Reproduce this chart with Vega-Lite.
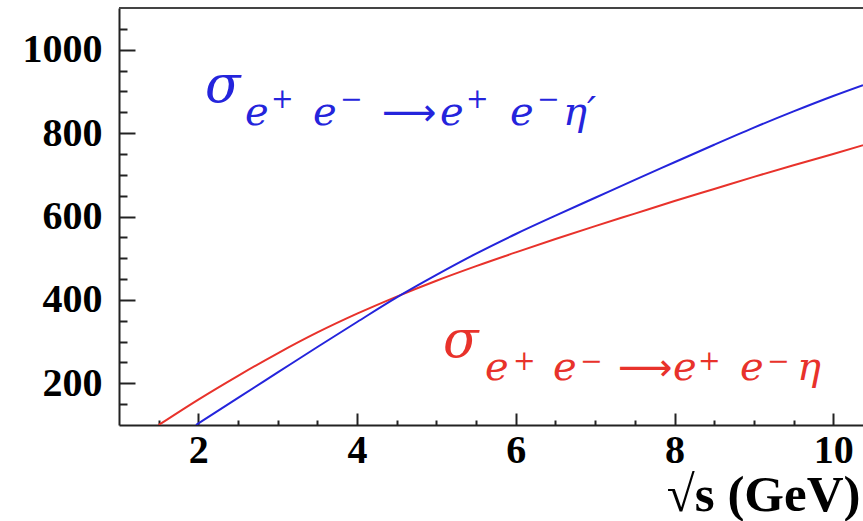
{
  "$schema": "https://vega.github.io/schema/vega-lite/v6.json",
  "width": 744,
  "height": 417,
  "autosize": {"type": "none"},
  "padding": {"left": 119, "top": 8, "right": 0, "bottom": 96},
  "background": "white",
  "config": {
    "view": {"stroke": null},
    "axis": {"grid": false}
  },
  "datasets": {
    "curves": [
      {"process": "eta", "sqrt_s": 1.5, "sigma": 100},
      {"process": "eta", "sqrt_s": 2.0, "sigma": 161},
      {"process": "eta", "sqrt_s": 2.5, "sigma": 218},
      {"process": "eta", "sqrt_s": 3.0, "sigma": 272},
      {"process": "eta", "sqrt_s": 3.5, "sigma": 322},
      {"process": "eta", "sqrt_s": 4.0, "sigma": 367},
      {"process": "eta", "sqrt_s": 4.5, "sigma": 408},
      {"process": "eta", "sqrt_s": 5.0, "sigma": 446},
      {"process": "eta", "sqrt_s": 5.5, "sigma": 481},
      {"process": "eta", "sqrt_s": 6.0, "sigma": 514},
      {"process": "eta", "sqrt_s": 6.5, "sigma": 546},
      {"process": "eta", "sqrt_s": 7.0, "sigma": 577},
      {"process": "eta", "sqrt_s": 7.5, "sigma": 607},
      {"process": "eta", "sqrt_s": 8.0, "sigma": 637},
      {"process": "eta", "sqrt_s": 8.5, "sigma": 666},
      {"process": "eta", "sqrt_s": 9.0, "sigma": 695},
      {"process": "eta", "sqrt_s": 9.5, "sigma": 723},
      {"process": "eta", "sqrt_s": 10.0, "sigma": 750},
      {"process": "eta", "sqrt_s": 10.375, "sigma": 771},
      {"process": "etaprime", "sqrt_s": 1.97, "sigma": 100},
      {"process": "etaprime", "sqrt_s": 2.5, "sigma": 165},
      {"process": "etaprime", "sqrt_s": 3.0, "sigma": 226},
      {"process": "etaprime", "sqrt_s": 3.5, "sigma": 287},
      {"process": "etaprime", "sqrt_s": 4.0, "sigma": 347},
      {"process": "etaprime", "sqrt_s": 4.5, "sigma": 406},
      {"process": "etaprime", "sqrt_s": 5.0, "sigma": 460},
      {"process": "etaprime", "sqrt_s": 5.5, "sigma": 511},
      {"process": "etaprime", "sqrt_s": 6.0, "sigma": 558},
      {"process": "etaprime", "sqrt_s": 6.5, "sigma": 602},
      {"process": "etaprime", "sqrt_s": 7.0, "sigma": 645},
      {"process": "etaprime", "sqrt_s": 7.5, "sigma": 688},
      {"process": "etaprime", "sqrt_s": 8.0, "sigma": 730},
      {"process": "etaprime", "sqrt_s": 8.5, "sigma": 772},
      {"process": "etaprime", "sqrt_s": 9.0, "sigma": 813},
      {"process": "etaprime", "sqrt_s": 9.5, "sigma": 852},
      {"process": "etaprime", "sqrt_s": 10.0, "sigma": 889},
      {"process": "etaprime", "sqrt_s": 10.375, "sigma": 915}
    ],
    "labels": [
      {"process": "etaprime", "part": "sigma", "text": "σ", "x": 2.084, "y": 875},
      {"process": "etaprime", "part": "base", "text": "e", "x": 2.588, "y": 819},
      {"process": "etaprime", "part": "sup", "text": "+", "x": 2.915, "y": 880},
      {"process": "etaprime", "part": "base", "text": "e", "x": 3.445, "y": 819},
      {"process": "etaprime", "part": "sup", "text": "−", "x": 3.785, "y": 880},
      {"process": "etaprime", "part": "arrow", "text": "⟶", "x": 4.314, "y": 819},
      {"process": "etaprime", "part": "base", "text": "e", "x": 5.045, "y": 819},
      {"process": "etaprime", "part": "sup", "text": "+", "x": 5.373, "y": 880},
      {"process": "etaprime", "part": "base", "text": "e", "x": 5.927, "y": 819},
      {"process": "etaprime", "part": "sup", "text": "−", "x": 6.267, "y": 880},
      {"process": "etaprime", "part": "base", "text": "η′", "x": 6.595, "y": 819},
      {"process": "eta", "part": "sigma", "text": "σ", "x": 5.083, "y": 263},
      {"process": "eta", "part": "base", "text": "e", "x": 5.612, "y": 208},
      {"process": "eta", "part": "sup", "text": "+", "x": 5.965, "y": 251},
      {"process": "eta", "part": "base", "text": "e", "x": 6.469, "y": 208},
      {"process": "eta", "part": "sup", "text": "−", "x": 6.809, "y": 251},
      {"process": "eta", "part": "arrow", "text": "⟶", "x": 7.288, "y": 208},
      {"process": "eta", "part": "base", "text": "e", "x": 7.981, "y": 208},
      {"process": "eta", "part": "sup", "text": "+", "x": 8.296, "y": 251},
      {"process": "eta", "part": "base", "text": "e", "x": 8.825, "y": 208},
      {"process": "eta", "part": "sup", "text": "−", "x": 9.165, "y": 251},
      {"process": "eta", "part": "base", "text": "η", "x": 9.543, "y": 208}
    ]
  },
  "resolve": {"axis": {"x": "independent", "y": "independent"}},
  "layer": [
    {
      "data": {"name": "curves"},
      "mark": {"type": "line", "strokeWidth": 2, "interpolate": "monotone", "clip": true},
      "encoding": {
        "x": {
          "field": "sqrt_s", "type": "quantitative",
          "scale": {"domain": [1, 10.375], "nice": false, "zero": false},
          "axis": {
            "orient": "bottom",
            "values": [2, 4, 6, 8, 10],
            "format": "d",
            "labelFont": "Liberation Serif", "labelFontWeight": "bold", "labelFontSize": 40,
            "labelColor": "black", "labelPadding": 17, "labelFlush": false, "labelOverlap": false,
            "domainColor": "#222", "domainWidth": 2,
            "tickColor": "#222", "tickWidth": 2, "tickSize": -12,
            "title": "√s (GeV)",
            "titleFont": "Liberation Serif", "titleFontWeight": "bold", "titleFontSize": 51,
            "titleColor": "black", "titleAlign": "right", "titleAnchor": "end",
            "titleX": 741, "titleY": 85, "titleBaseline": "alphabetic"
          }
        },
        "y": {
          "field": "sigma", "type": "quantitative",
          "scale": {"domain": [100, 1100], "nice": false, "zero": false},
          "axis": {
            "orient": "left",
            "values": [200, 400, 600, 800, 1000],
            "format": "d",
            "labelFont": "Liberation Serif", "labelFontWeight": "bold", "labelFontSize": 40,
            "labelColor": "black", "labelPadding": 33, "labelFlush": false, "labelOverlap": false,
            "domainColor": "#222", "domainWidth": 2,
            "tickColor": "#222", "tickWidth": 2, "tickSize": -16,
            "title": null
          }
        },
        "color": {
          "field": "process", "type": "nominal",
          "scale": {"domain": ["eta", "etaprime"], "range": ["#e8322b", "#2424dc"]},
          "legend": null
        }
      }
    },
    {
      "data": {"values": [{"edge": "top", "sigma": 1100}]},
      "mark": {"type": "rule", "color": "#444", "strokeWidth": 2},
      "encoding": {
        "y": {"field": "sigma", "type": "quantitative", "scale": {"domain": [100, 1100], "nice": false, "zero": false}, "axis": null}
      }
    },
    {
      "data": {"name": "labels"},
      "transform": [{"filter": "datum.part === 'sigma'"}],
      "mark": {"type": "text", "align": "left", "baseline": "alphabetic", "font": "DejaVu Serif", "fontStyle": "italic", "fontSize": 52},
      "encoding": {
        "x": {"field": "x", "type": "quantitative", "scale": {"domain": [1, 10.375], "nice": false, "zero": false}, "axis": null},
        "y": {"field": "y", "type": "quantitative", "scale": {"domain": [100, 1100], "nice": false, "zero": false}, "axis": null},
        "text": {"field": "text"},
        "color": {"field": "process", "type": "nominal", "legend": null}
      }
    },
    {
      "data": {"name": "labels"},
      "transform": [{"filter": "datum.part === 'base'"}],
      "mark": {"type": "text", "align": "left", "baseline": "alphabetic", "font": "DejaVu Serif", "fontStyle": "italic", "fontSize": 40},
      "encoding": {
        "x": {"field": "x", "type": "quantitative", "scale": {"domain": [1, 10.375], "nice": false, "zero": false}, "axis": null},
        "y": {"field": "y", "type": "quantitative", "scale": {"domain": [100, 1100], "nice": false, "zero": false}, "axis": null},
        "text": {"field": "text"},
        "color": {"field": "process", "type": "nominal", "legend": null}
      }
    },
    {
      "data": {"name": "labels"},
      "transform": [{"filter": "datum.part === 'arrow'"}],
      "mark": {"type": "text", "align": "left", "baseline": "alphabetic", "font": "DejaVu Sans", "fontSize": 38},
      "encoding": {
        "x": {"field": "x", "type": "quantitative", "scale": {"domain": [1, 10.375], "nice": false, "zero": false}, "axis": null},
        "y": {"field": "y", "type": "quantitative", "scale": {"domain": [100, 1100], "nice": false, "zero": false}, "axis": null},
        "text": {"field": "text"},
        "color": {"field": "process", "type": "nominal", "legend": null}
      }
    },
    {
      "data": {"name": "labels"},
      "transform": [{"filter": "datum.part === 'sup'"}],
      "mark": {"type": "text", "align": "left", "baseline": "middle", "font": "DejaVu Serif", "fontSize": 27},
      "encoding": {
        "x": {
          "field": "x", "type": "quantitative",
          "scale": {"domain": [1, 10.375], "nice": false, "zero": false},
          "axis": {
            "orient": "bottom",
            "values": [1.5, 2.5, 3, 3.5, 4.5, 5, 5.5, 6.5, 7, 7.5, 8.5, 9, 9.5],
            "labels": false, "domain": false, "title": null,
            "tickColor": "#222", "tickWidth": 2, "tickSize": -5
          }
        },
        "y": {
          "field": "y", "type": "quantitative",
          "scale": {"domain": [100, 1100], "nice": false, "zero": false},
          "axis": {
            "orient": "left",
            "values": [150, 250, 300, 350, 450, 500, 550, 650, 700, 750, 850, 900, 950, 1050],
            "labels": false, "domain": false, "title": null,
            "tickColor": "#222", "tickWidth": 2, "tickSize": -8
          }
        },
        "text": {"field": "text"},
        "color": {"field": "process", "type": "nominal", "legend": null}
      }
    }
  ]
}
